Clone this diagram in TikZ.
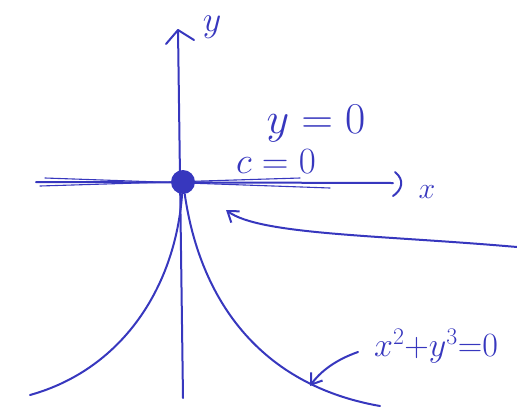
\RequirePackage{fix-cm}
\documentclass[tikz,border=0pt]{standalone}
\usetikzlibrary{arrows.meta}
\definecolor{ink}{RGB}{55,55,190}
\begin{document}
\begin{tikzpicture}[x=1pt,y=-1pt,
  pen/.style={draw=ink,line width=2pt,line cap=round,line join=round},
  lbl/.style={text=ink,inner sep=0pt}]
\useasboundingbox (0,0) rectangle (517,416);
% axes
\coordinate (ybot) at (183,398);
\coordinate (ytop) at (178,30);
\draw[pen] (ybot) -- (ytop);
\draw[pen] (166,44) -- (ytop) -- (194,40);
\node[lbl,font=\fontsize{36}{36}\selectfont] (ylab) at (212,27) {$y$};
\coordinate (xl) at (36,182);
\coordinate (xr) at (393,183);
\draw[pen] (xl) -- (xr);
\draw[pen,line width=1.1pt] (45,178) -- (330,188);
\draw[pen,line width=1.1pt] (40,186) -- (300,178);
\draw[pen] (395,172) .. controls (405,180) and (402,190) .. (393,196);
\node[lbl,font=\fontsize{30}{30}\selectfont] (xlab) at (427,192) {$x$};
% origin dot
\node[circle,fill=ink,minimum size=24pt,inner sep=0pt] (o) at (183,182) {};
% cusp
\draw[pen] (o) .. controls (175,290) and (120,370) .. (30,395);
\draw[pen] (o) .. controls (200,300) and (260,385) .. (380,406);
% labels
\node[lbl,font=\fontsize{44}{44}\selectfont] (y0) at (316,124) {$y=0$};
\node[lbl,font=\fontsize{37}{37}\selectfont] (c0) at (276,162) {$c=0$};
\node[lbl,font=\fontsize{34}{34}\selectfont] (eq) at (436,346) {$x^2{+}y^3{=}0$};
% arrows
\coordinate (a1s) at (517,247);
\coordinate (a1e) at (226,210);
\draw[pen,-{Straight Barb[length=10pt,width=14pt]}] (a1s) .. controls (380,235) and (260,235) .. (a1e);
\coordinate (a2s) at (358,352);
\coordinate (a2e) at (310,386);
\draw[pen,-{Straight Barb[length=10pt,width=14pt]}] (a2s) .. controls (335,360) and (320,372) .. (a2e);
\end{tikzpicture}
\end{document}
